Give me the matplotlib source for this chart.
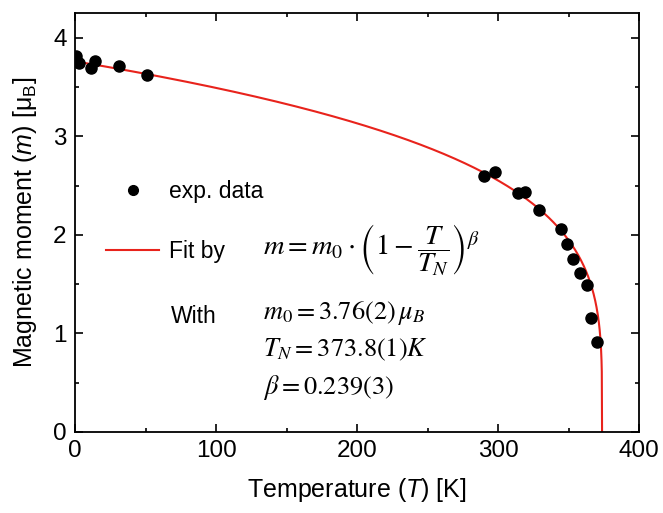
import numpy as np
import matplotlib
matplotlib.use('Agg')
import matplotlib.pyplot as plt
from matplotlib.ticker import MultipleLocator
from matplotlib.lines import Line2D

temp = [1, 3, 11, 14, 31, 51, 290, 298, 314, 319, 329, 345, 349, 353.5, 358, 363, 366, 370]
moment = [3.81, 3.74, 3.69, 3.76, 3.71, 3.62, 2.60, 2.64, 2.42, 2.43, 2.25, 2.06, 1.91,
          1.75, 1.61, 1.49, 1.16, 0.91]

# fit parameters
m0 = 3.76
t_n = 373.8
beta = 0.239

x_ticks = [0, 100, 200, 300, 400]
y_ticks = [0, 1, 2, 3, 4]

plt.rcParams['font.family'] = 'Liberation Sans'
plt.rcParams['mathtext.fontset'] = 'custom'
plt.rcParams['mathtext.rm'] = 'Liberation Sans'
plt.rcParams['mathtext.it'] = 'Liberation Sans:italic'

fig = plt.figure(figsize=(6.63, 5.13), dpi=100)
ax = fig.add_axes([75 / 663, 81 / 513, 564 / 663, 419 / 513])

# fit curve
t_fit = np.concatenate([np.linspace(0, t_n, 2000), [t_n]])
m_fit = m0 * np.clip(1 - t_fit / t_n, 0, None) ** beta
ax.plot(t_fit, m_fit, color='#e8231c', lw=1.5, zorder=2)
ax.plot(temp, moment, 'o', color='black', ms=8, zorder=3)

ax.set_xlim(0, 400)
ax.set_ylim(0, 4.25)
ax.set_xticks(x_ticks)
ax.set_yticks(y_ticks)
ax.xaxis.set_minor_locator(MultipleLocator(50))
ax.yaxis.set_minor_locator(MultipleLocator(0.5))
ax.tick_params(which='both', direction='in', top=True, right=True, width=1.2)
ax.tick_params(which='major', length=6, labelsize=17.5, pad=6)
ax.tick_params(which='minor', length=3)
for s in ax.spines.values():
    s.set_linewidth(1.3)

ax.set_xlabel(r'Temperature $\mathit{(T)}$ [K]', fontsize=18, labelpad=10)
ax.set_ylabel(r'Magnetic moment $\mathit{(m)}$ [μ$_\mathrm{B}$]', fontsize=18, labelpad=10)

handles = [Line2D([], [], marker='o', ls='none', color='black', ms=7),
           Line2D([], [], color='#e8231c', lw=1.5)]
ax.legend(handles, ['exp. data', 'Fit by'], loc='center left',
          bbox_to_anchor=(0.035, 0.502), frameon=False, fontsize=16.5,
          handlelength=2.3, handletextpad=0.45, labelspacing=1.62, borderpad=0)

ax.text(0.17, 0.275, 'With', transform=ax.transAxes, fontsize=16.5, va='center')

ax.text(0.333, 0.435, r'$m = m_0 \cdot \left(1 - \dfrac{T}{T_N}\right)^{\beta}$',
        transform=ax.transAxes, fontsize=20.5, va='center', math_fontfamily='stix')
ax.text(0.333, 0.285, r'$m_0 = 3.76(2)\,\mu_B$', transform=ax.transAxes,
        fontsize=19, va='center', math_fontfamily='stix')
ax.text(0.333, 0.195, r'$T_N = 373.8(1)K$', transform=ax.transAxes,
        fontsize=19, va='center', math_fontfamily='stix')
ax.text(0.333, 0.107, r'$\beta = 0.239(3)$', transform=ax.transAxes,
        fontsize=19, va='center', math_fontfamily='stix')

fig.savefig('out.png', dpi=100)
